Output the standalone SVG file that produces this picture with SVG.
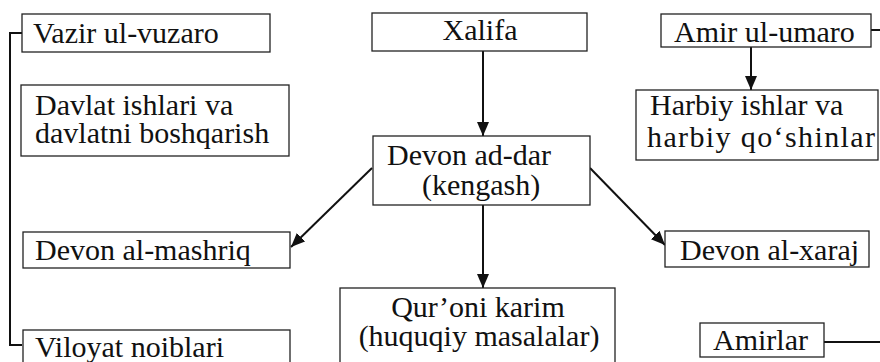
<svg xmlns="http://www.w3.org/2000/svg" width="880" height="362" viewBox="0 0 880 362">
<style>
.box{fill:#fff;stroke:#222;stroke-width:1.3}
.t{font-family:"Liberation Serif","Times New Roman",serif;font-size:30px;fill:#111}
.c{fill:none;stroke:#111;stroke-width:2}
</style>
<defs>
<marker id="ah" viewBox="0 0 14 12" refX="14" refY="6" markerWidth="14" markerHeight="12" markerUnits="userSpaceOnUse" orient="auto">
<path d="M0,0 L14,6 L0,12 Z" fill="#111"/>
</marker>
</defs>
<rect width="880" height="362" fill="#fff"/>
<g id="connectors">
<path class="c" d="M22,33 H10 V345 H22"/>
<path class="c" d="M871,30 H880"/>
<path class="c" d="M824,342 H880"/>
<line class="c" x1="483" y1="51" x2="483" y2="136" marker-end="url(#ah)"/>
<line class="c" x1="751" y1="47" x2="751" y2="90" marker-end="url(#ah)"/>
<line class="c" x1="483" y1="205" x2="483" y2="288" marker-end="url(#ah)"/>
<line class="c" x1="372" y1="168" x2="291" y2="247" marker-end="url(#ah)"/>
<line class="c" x1="590" y1="168" x2="665" y2="245" marker-end="url(#ah)"/>
</g>
<g id="vazir">
<rect class="box" x="22" y="14" width="248" height="38"/>
<text class="t" x="33" y="43">Vazir ul-vuzaro</text>
</g>
<g id="davlat">
<rect class="box" x="21" y="85" width="268" height="71"/>
<text class="t" x="35" y="115">Davlat ishlari va</text>
<text class="t" x="35" y="143">davlatni boshqarish</text>
</g>
<g id="xalifa">
<rect class="box" x="372" y="13" width="215" height="38"/>
<text class="t" x="480" y="40" text-anchor="middle">Xalifa</text>
</g>
<g id="amir">
<rect class="box" x="661" y="14" width="210" height="33"/>
<text class="t" x="674" y="42">Amir ul-umaro</text>
</g>
<g id="harbiy">
<rect class="box" x="636" y="90" width="242" height="70"/>
<text class="t" x="650" y="115">Harbiy ishlar va</text>
<text class="t" x="647" y="147" textLength="228" lengthAdjust="spacing">harbiy qo‘shinlar</text>
</g>
<g id="devon-ad-dar">
<rect class="box" x="373" y="136" width="217" height="69"/>
<text class="t" x="387" y="165">Devon ad-dar</text>
<text class="t" x="422" y="195">(kengash)</text>
</g>
<g id="mashriq">
<rect class="box" x="23" y="232" width="267" height="36"/>
<text class="t" x="35" y="260">Devon al-mashriq</text>
</g>
<g id="xaraj">
<rect class="box" x="665" y="231" width="204" height="36"/>
<text class="t" x="680" y="260">Devon al-xaraj</text>
</g>
<g id="quroni">
<rect class="box" x="340" y="288" width="275" height="80"/>
<text class="t" x="478" y="317" text-anchor="middle">Qur’oni karim</text>
<text class="t" x="479" y="346" text-anchor="middle">(huquqiy masalalar)</text>
</g>
<g id="viloyat">
<rect class="box" x="23" y="330" width="267" height="40"/>
<text class="t" x="35" y="357">Viloyat noiblari</text>
</g>
<g id="amirlar">
<rect class="box" x="700" y="323" width="124" height="34"/>
<text class="t" x="713" y="350">Amirlar</text>
</g>
</svg>
